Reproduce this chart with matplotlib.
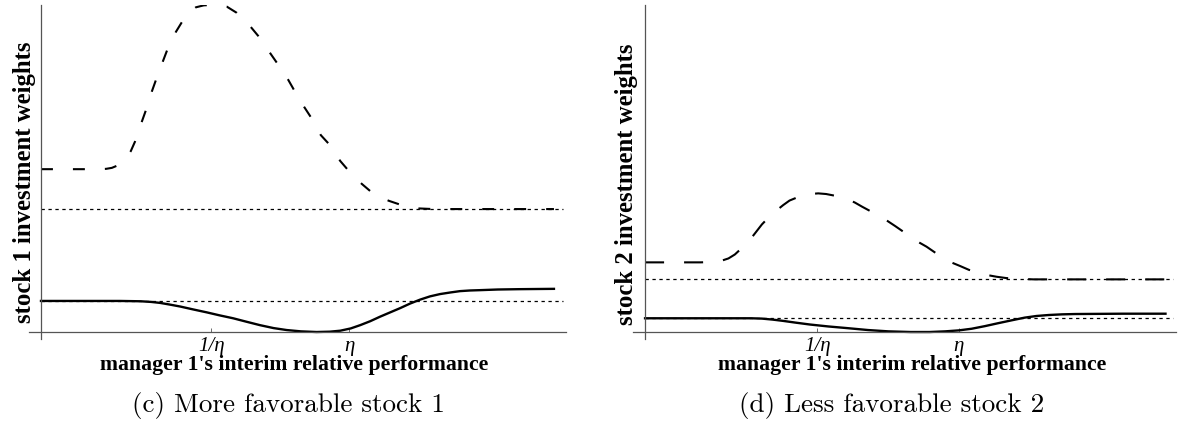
import numpy as np
import matplotlib.pyplot as plt

plt.rcParams['lines.scale_dashes'] = False

# x runs from the y-axis (0) to the end of the x-axis (1), y from the x-axis (0) to the top (1)
# (c) more favorable stock 1
x_dash_1 = [0.0, 0.11, 0.124, 0.135, 0.144, 0.155, 0.163, 0.171, 0.179, 0.192, 0.2, 0.211, 0.219,
            0.232, 0.241, 0.257, 0.27, 0.283, 0.295, 0.31, 0.324, 0.34, 0.354, 0.373, 0.398, 0.414,
            0.436, 0.449, 0.471, 0.482, 0.501, 0.514, 0.533, 0.549, 0.57, 0.585, 0.598, 0.611, 0.63,
            0.646, 0.663, 0.687, 0.703, 0.719, 0.747, 0.977]
y_dash_1 = [0.498, 0.498, 0.499, 0.502, 0.508, 0.522, 0.535, 0.553, 0.582, 0.643, 0.679, 0.735, 0.771,
            0.827, 0.865, 0.918, 0.952, 0.978, 0.993, 0.999, 1.0, 0.999, 0.995, 0.976, 0.936, 0.905,
            0.854, 0.824, 0.771, 0.74, 0.689, 0.657, 0.602, 0.574, 0.523, 0.495, 0.473, 0.453, 0.427,
            0.412, 0.401, 0.388, 0.382, 0.378, 0.376, 0.376]
x_solid_1 = [0.0, 0.15, 0.19, 0.21, 0.227, 0.245, 0.265, 0.29, 0.316, 0.34, 0.366, 0.39, 0.417, 0.443,
             0.468, 0.495, 0.525, 0.55, 0.57, 0.59, 0.608, 0.627, 0.646, 0.665, 0.684, 0.703, 0.722,
             0.741, 0.76, 0.78, 0.798, 0.817, 0.836, 0.87, 0.91, 0.977]
y_solid_1 = [0.095, 0.095, 0.094, 0.092, 0.089, 0.084, 0.078, 0.069, 0.06, 0.051, 0.042, 0.032, 0.021,
             0.012, 0.006, 0.002, 0.0, 0.001, 0.004, 0.011, 0.021, 0.033, 0.047, 0.06, 0.073, 0.087,
             0.099, 0.109, 0.116, 0.121, 0.125, 0.127, 0.128, 0.13, 0.131, 0.132]
levels_1 = [0.376, 0.095]
ticks_1 = [0.324, 0.587]

# (d) less favorable stock 2
x_dash_2 = [0.0, 0.104, 0.125, 0.144, 0.157, 0.169, 0.183, 0.198, 0.209, 0.22, 0.233, 0.247, 0.26,
            0.272, 0.29, 0.311, 0.326, 0.341, 0.36, 0.38, 0.395, 0.409, 0.425, 0.444, 0.458, 0.471,
            0.487, 0.503, 0.517, 0.53, 0.547, 0.564, 0.578, 0.593, 0.61, 0.63, 0.645, 0.662, 0.68,
            0.7, 0.731, 0.98]
y_dash_2 = [0.213, 0.213, 0.214, 0.218, 0.225, 0.237, 0.258, 0.283, 0.306, 0.329, 0.351, 0.371, 0.388,
            0.402, 0.414, 0.422, 0.424, 0.422, 0.416, 0.407, 0.396, 0.383, 0.369, 0.353, 0.338, 0.324,
            0.306, 0.287, 0.273, 0.261, 0.242, 0.225, 0.212, 0.202, 0.19, 0.181, 0.174, 0.169, 0.165,
            0.163, 0.161, 0.161]
x_solid_2 = [0.0, 0.2, 0.22, 0.24, 0.26, 0.282, 0.31, 0.345, 0.38, 0.42, 0.458, 0.5, 0.536, 0.565,
             0.591, 0.615, 0.64, 0.665, 0.691, 0.715, 0.737, 0.76, 0.785, 0.81, 0.9, 0.98]
y_solid_2 = [0.042, 0.042, 0.041, 0.038, 0.034, 0.029, 0.023, 0.017, 0.012, 0.006, 0.002, 0.0, 0.0,
             0.002, 0.005, 0.01, 0.018, 0.027, 0.036, 0.044, 0.049, 0.052, 0.054, 0.055, 0.056, 0.056]
levels_2 = [0.161, 0.042]
ticks_2 = [0.324, 0.591]

tick_labels = ['1/η', 'η']
ylabels = ['stock 1 investment weights', 'stock 2 investment weights']
xlabel = "manager 1's interim relative performance"
captions = ['(c) More favorable stock 1', '(d) Less favorable stock 2']

fig = plt.figure(figsize=(11.78, 4.26), dpi=100)
ax1 = fig.add_axes([0.0246, 0.2042, 0.4559, 0.7840])
ax2 = fig.add_axes([0.5374, 0.2042, 0.4610, 0.7840])

panels = [
    (ax1, x_dash_1, y_dash_1, x_solid_1, y_solid_1, levels_1, ticks_1, (8.6, 14.4), -12 / 525),
    (ax2, x_dash_2, y_dash_2, x_solid_2, y_solid_2, levels_2, ticks_2, (13.7, 14.4), -12 / 531),
]

for ax, xd, yd, xs, ys, levels, ticks, dash, x0 in panels:
    for lev in levels:
        ax.plot([0, 0.995], [lev, lev], color='black', lw=0.9, dashes=(2.4, 2.6))
    ax.plot(xd, yd, color='black', lw=1.5, dashes=dash)
    ax.plot(xs, ys, color='black', lw=1.7)
    ax.set_xlim(x0, 1.0)
    ax.set_ylim(-7 / 327, 1.0)
    for side in ['top', 'right']:
        ax.spines[side].set_visible(False)
    for side in ['left', 'bottom']:
        ax.spines[side].set_position(('data', 0))
        ax.spines[side].set_color('#555555')
        ax.spines[side].set_linewidth(0.9)
    ax.set_yticks([])
    ax.set_xticks(ticks)
    ax.set_xticklabels(tick_labels, family='Liberation Serif', style='italic', fontsize=15)
    ax.tick_params(axis='x', direction='in', length=3, width=0.6, color='#555555', pad=3.5)
    ax.patch.set_alpha(0)

bold = dict(family='Liberation Serif', weight='bold')
fig.text(0.0205, 0.573, ylabels[0], rotation=90, ha='center', va='center', fontsize=17.8, **bold)
fig.text(0.5316, 0.568, ylabels[1], rotation=90, ha='center', va='center', fontsize=17.8, **bold)
fig.text(0.2496, 0.131, xlabel, ha='center', va='baseline', fontsize=15.7, **bold)
fig.text(0.7742, 0.131, xlabel, ha='center', va='baseline', fontsize=15.7, **bold)
fig.text(0.2445, 0.047, captions[0], ha='center', va='center', fontsize=19.5, family='cmr10')
fig.text(0.757, 0.047, captions[1], ha='center', va='center', fontsize=19.5, family='cmr10')

plt.savefig('out.png', dpi=100)
